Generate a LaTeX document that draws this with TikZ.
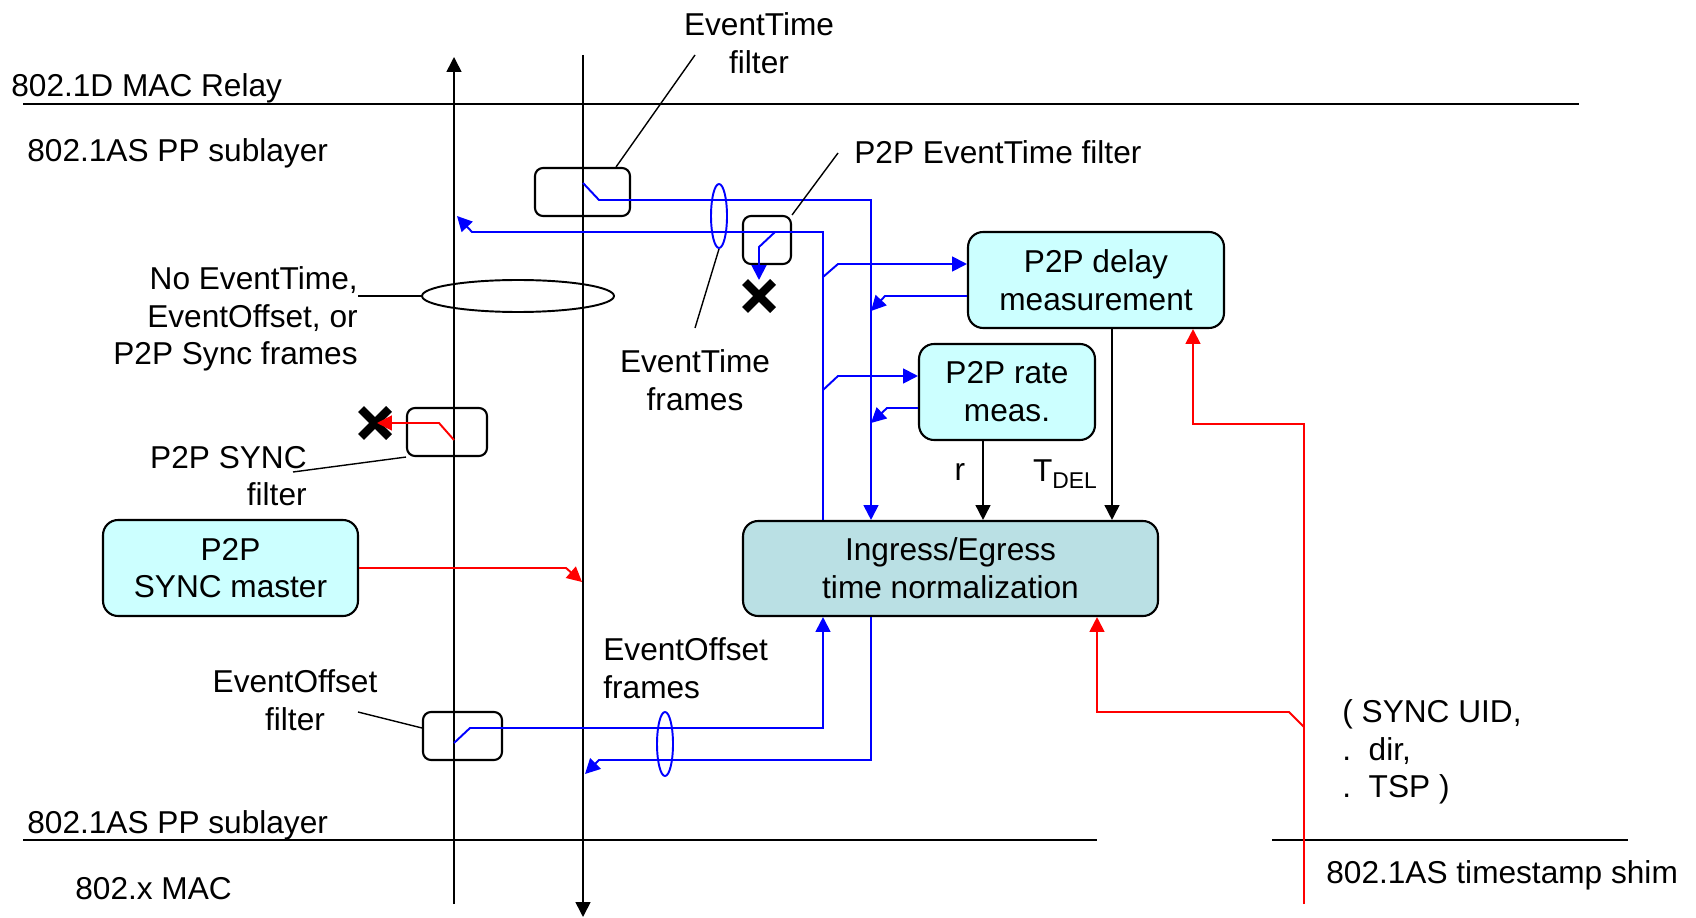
\documentclass[tikz,border=0pt]{standalone}
\usepackage{fontspec}
\setmainfont{Liberation Sans}
\usetikzlibrary{arrows.meta,shapes.geometric}

\definecolor{boxcyan}{RGB}{204,255,255}
\definecolor{normfill}{RGB}{186,224,228}
\definecolor{pathblue}{RGB}{0,0,255}
\definecolor{pathred}{RGB}{255,0,0}

\begin{document}
\begin{tikzpicture}[
    x=0.02cm, y=-0.02cm,
    font=\fontsize{18}{21.5}\selectfont,
    every node/.style={inner sep=0pt},
    tip/.style={-{Triangle[length=8.5pt,width=8.5pt]}},
    block/.style={draw, line width=1.2pt, rounded corners=0.3cm, align=center, fill=boxcyan},
    filterbox/.style={draw, line width=1.2pt, rounded corners=0.16cm},
    bundle/.style={draw=pathblue, ellipse, line width=1.1pt, minimum width=0.32cm, minimum height=1.28cm},
    bline/.style={pathblue, line width=1.1pt},
    rline/.style={pathred, line width=1.1pt},
    layer/.style={line width=1.3pt},
    relay/.style={line width=0.9pt},
    leader/.style={line width=0.8pt},
    xmark/.style={line width=4.8pt},
]
\useasboundingbox (0,0) rectangle (1696,918);

% ---- column x-coordinates ----
\def\xL{454}      % up path to the relay
\def\xR{583}      % down path from the relay
\def\xA{823}      % blue spine back to the up path
\def\xB{871}      % blue spine into normalization
\def\xS{1304}     % red line from the timestamp shim

% ---- row y-coordinates ----
\def\yTop{104}    % relay / PP sublayer border
\def\yBot{840}    % PP sublayer / MAC border

\coordinate (colA) at (\xA,0);
\coordinate (colB) at (\xB,0);
\coordinate (colQ) at (1097,0);
\coordinate (colR) at (1193,0);
\coordinate (colr) at (983,0);
\coordinate (colT) at (1112,0);

% ---- layer borders ----
\draw[layer] (23,\yTop) -- (1579,\yTop);
\draw[layer] (23,\yBot) -- (1097,\yBot);
\draw[layer] (1272,\yBot) -- (1628,\yBot);

\node[anchor=west] (relaylab) at (11,88) {802.1D MAC Relay};
\node[anchor=west] (pptop) at (27,153) {802.1AS PP sublayer};
\node[anchor=west] (ppbot) at (27,825) {802.1AS PP sublayer};
\node[anchor=west] (maclab) at (75,889) {802.x MAC};
\node[anchor=west] (shimlab) at (1326,875) {802.1AS timestamp shim};

% ---- up / down relay paths ----
\coordinate (upbot) at (\xL,904);
\coordinate (uptop) at (\xL,57);
\coordinate (dntop) at (\xR,55);
\coordinate (dnbot) at (\xR,917);
\draw[relay, tip] (upbot) -- (uptop);
\draw[relay, tip] (dntop) -- (dnbot);

% ---- function blocks ----
\node[block, minimum width=5.12cm, minimum height=1.92cm] (delay) at (1096,280) {P2P delay\\measurement};
\node[block, minimum width=3.52cm, minimum height=1.92cm] (rate) at (1007,392) {P2P rate\\meas.};
\node[block, fill=normfill, minimum width=8.3cm, minimum height=1.9cm] (norm) at (950.5,568.5) {Ingress/Egress\\time normalization};
\node[block, minimum width=5.1cm, minimum height=1.92cm] (master) at (230.5,568) {P2P\\SYNC master};

% ---- filters ----
\node[filterbox, minimum width=1.9cm, minimum height=0.96cm] (etf) at (582.5,192) {};
\node[filterbox, minimum width=0.96cm, minimum height=0.96cm] (pef) at (767,240) {};
\node[filterbox, minimum width=1.6cm, minimum height=0.96cm] (sf) at (447,432) {};
\node[filterbox, minimum width=1.58cm, minimum height=0.96cm] (eof) at (462.5,736) {};

% ---- frame bundles ----
\node[draw, ellipse, line width=1.1pt, minimum width=3.84cm, minimum height=0.64cm] (noev) at (518,296) {};
\node[bundle] (etbund) at (719,216) {};
\node[bundle] (eobund) at (665,744) {};

% ---- EventTime frames (blue) ----
\draw[bline, tip] (\xR,183) -- (599,200) -| (norm.north -| colB);
\draw[bline, tip] (norm.north -| colA) |- (472,232) -- (457,216);
\draw[bline, tip] (\xA,277) -- (838,264) -- ([yshift=0.32cm]delay.west);
\draw[bline, tip] ([yshift=-0.32cm]delay.west) -- (885,296) -- (\xB,311);
\draw[bline, tip] (\xA,390) -- (838,376) -- ([yshift=0.32cm]rate.west);
\draw[bline, tip] ([yshift=-0.32cm]rate.west) -- (887,408) -- (\xB,423);
\coordinate (dropA) at (759,296);
\draw[xmark] (dropA) +(-14,-14) -- +(14,14) +(14,-14) -- +(-14,14);
\draw[bline, tip] (775,232) -- (759,247) -- (759,280);

% ---- EventOffset frames (blue) ----
\draw[bline, tip] (\xL,743) -- (470,728) -| (norm.south -| colA);
\draw[bline, tip] (norm.south -| colB) |- (599,760) -- (585,774);

% ---- sync (red) ----
\coordinate (dropB) at (375,423);
\draw[xmark] (dropB) +(-14,-14) -- +(14,14) +(14,-14) -- +(-14,14);
\draw[rline, tip] (\xL,440) -- (439,423) -- (377,423);
\draw[rline, tip] (master.east) -- (566,568) -- (582,582);
\coordinate (shimbot) at (\xS,904);
\draw[rline, tip] (shimbot) -- (\xS,424) -| (delay.south -| colR);
\draw[rline, tip] (\xS,727) -- (1289,712) -| (norm.south -| colQ);

% ---- r and T_DEL ----
\draw[relay, tip] (rate.south -| colr) -- (norm.north -| colr);
\draw[relay, tip] (delay.south -| colT) -- (norm.north -| colT);
\node (rlab) at (960,472) {r};
\node (tdlab) at (1065,474) {T\raisebox{-0.45ex}{\fontsize{13}{15}\selectfont DEL}};

% ---- labels and leaders ----
\node[align=center] (etflab) at (759,43) {EventTime\\filter};
\node[anchor=west] (peflab) at (854,152) {P2P EventTime filter};
\node[align=center] (etlab) at (695,380) {EventTime\\frames};
\node[align=right, anchor=east] (noevlab) at (358,319) {No EventTime,\\EventOffset, or\\P2P Sync frames};
\node[align=right, anchor=east] (sflab) at (307,476) {P2P SYNC\\filter};
\node[align=center] (eoflab) at (295,700) {EventOffset\\filter};
\node[align=left, anchor=west] (eolab) at (603,668) {EventOffset\\frames};
\node[align=left, anchor=west] (uidlab) at (1342,752) {( SYNC UID,\\.\ \ dir,\\.\ \ TSP )};

\draw[leader] ([xshift=-0.3cm]etf.north east) -- (695,55);
\draw[leader] (pef.north east) -- (838,153);
\draw[leader] (etbund.south) -- (695,328);
\draw[leader] (noev.west) -- (358,296);
\draw[leader] (sf.south west) -- (293,472);
\draw[leader] ([yshift=0.16cm]eof.west) -- (358,712);

\end{tikzpicture}
\end{document}
